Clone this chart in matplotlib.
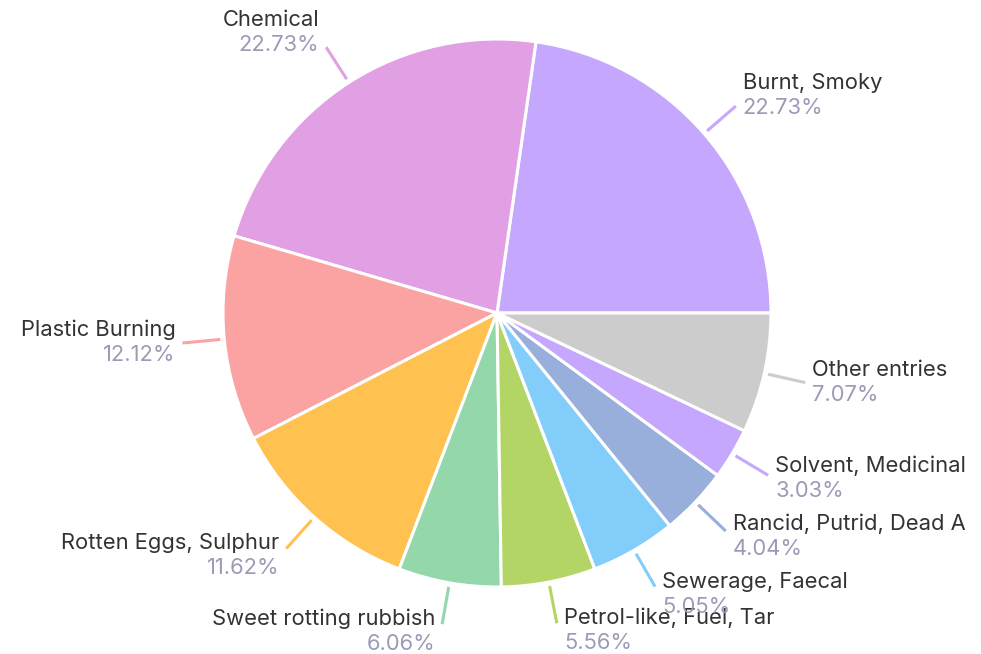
import numpy as np
import matplotlib.pyplot as plt

# Smell categories, listed counter-clockwise starting at 3 o'clock
labels = ["Burnt, Smoky", "Chemical", "Plastic Burning", "Rotten Eggs, Sulphur",
          "Sweet rotting rubbish", "Petrol-like, Fuel, Tar", "Sewerage, Faecal",
          "Rancid, Putrid, Dead A", "Solvent, Medicinal", "Other entries"]
shares = [22.73, 22.73, 12.12, 11.62, 6.06, 5.56, 5.05, 4.04, 3.03, 7.07]
colors = ["#c5a8fd", "#e19fe4", "#fba3a3", "#ffc150", "#93d7aa",
          "#b2d565", "#83cdfa", "#98aedb", "#c5a8fd", "#cccccc"]
# vertical nudge of each label block (pixels, + is up)
label_dy = [11, 15, 1, -7, -7, -7, -8, -5, -3, 0]

W, H = 981, 654
cx, cy, R = 497, H - 313, 274

fig = plt.figure(figsize=(W / 100, H / 100), dpi=100)
ax = fig.add_axes([0, 0, 1, 1])

wedges, _ = ax.pie(shares, colors=colors, startangle=0, counterclock=True,
                   center=(cx, cy), radius=R, frame=True,
                   wedgeprops=dict(edgecolor="white", linewidth=2.2))
ax.set_xlim(0, W)
ax.set_ylim(0, H)
ax.axis("off")

font = "Inter"
for w, name, pct, col, dy in zip(wedges, labels, shares, colors, label_dy):
    mid = np.deg2rad((w.theta1 + w.theta2) / 2)
    c, s = np.cos(mid), np.sin(mid)
    x0, y0 = cx + (R + 4) * c, cy + (R + 4) * s
    x1, y1 = cx + (R + 42) * c, cy + (R + 42) * s
    ax.plot([x0, x1], [y0, y1], color=col, lw=2.2, solid_capstyle="butt")
    if c >= 0:
        tx, ha = x1 + 7, "left"
    else:
        tx, ha = x1 - 7, "right"
    ym = y1 + dy
    ax.text(tx, ym + 12.5, name, ha=ha, va="center", fontsize=15.8,
            color="#333333", family=font)
    ax.text(tx, ym - 12.5, f"{pct:.2f}%", ha=ha, va="center", fontsize=15.8,
            color="#9b9bb8", family=font)

fig.savefig("out.png", dpi=100)
